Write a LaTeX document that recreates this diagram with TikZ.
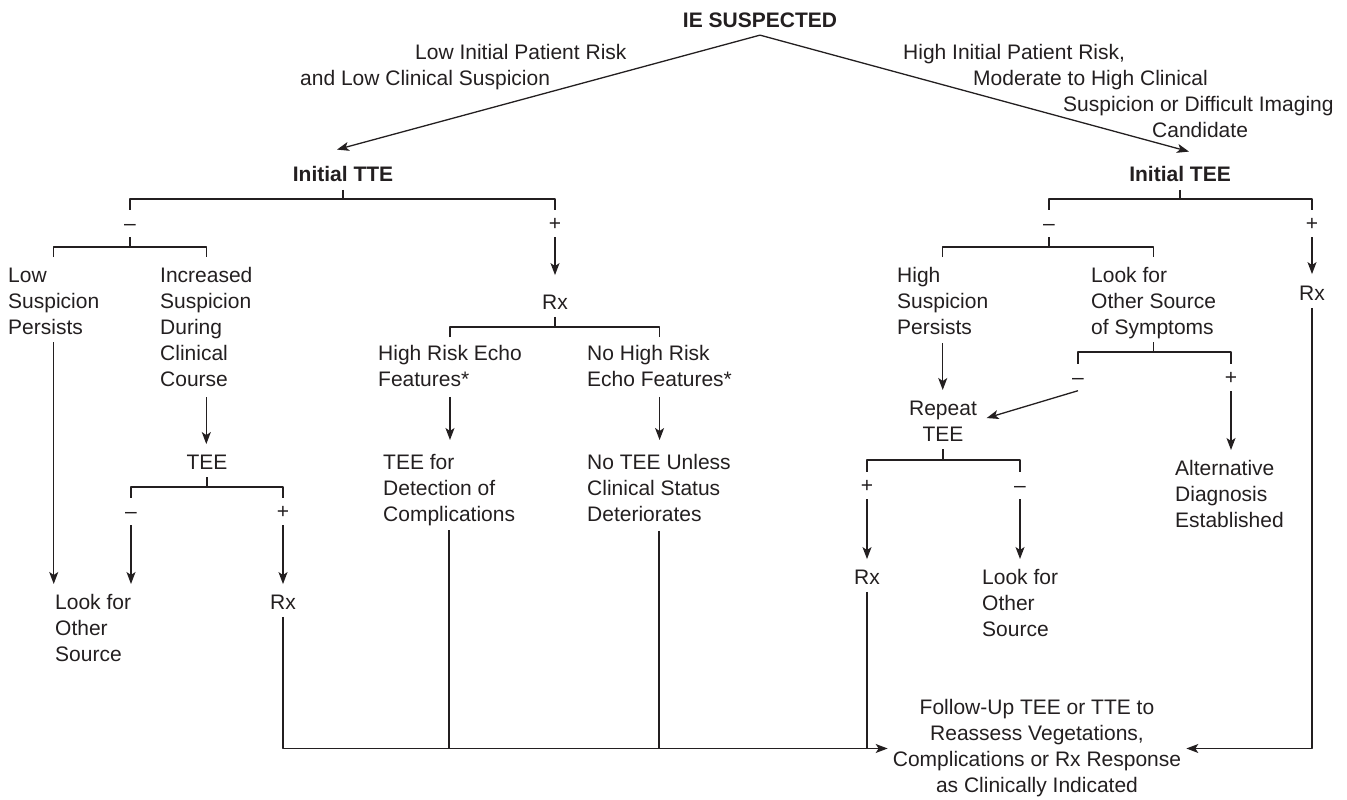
\documentclass[tikz,border=0pt]{standalone}
\usepackage{fontspec}
\setmainfont{Liberation Sans}
\usetikzlibrary{arrows.meta}
\definecolor{ink}{RGB}{35,31,32}
\tikzset{
  txt/.style={inner sep=0pt, align=left, font=\fontsize{21}{26}\selectfont},
  ctr/.style={txt, align=center},
  bld/.style={inner sep=0pt, font=\fontsize{21}{26}\selectfont\bfseries},
  sgn/.style={inner sep=0pt, font=\fontsize{21}{26}\selectfont, text height=15pt, text depth=0pt},
  ln/.style={line width=1.3pt},
  arr/.style={ln, ->},
}
\begin{document}
\begin{tikzpicture}[x=1pt, y=-1pt, color=ink, line join=round, >={Stealth[length=12pt,width=9pt,inset=3pt]}]
\useasboundingbox (0,0) rectangle (1347,800);

\node[bld] (ie) at (760,20) {IE SUSPECTED};
\node[bld] (tte) at (343,174) {Initial TTE};
\node[bld] (tee) at (1180,174) {Initial TEE};
\node[txt, anchor=north west] (lowlbl) at (300,44.5) {\hspace*{115pt}Low Initial Patient Risk\\and Low Clinical Suspicion};
\node[txt, anchor=north west] (highlbl) at (903,44.5) {High Initial Patient Risk,\\\hspace*{70pt}Moderate to High Clinical\\\hspace*{160pt}Suspicion or Difficult Imaging\\\hspace*{249pt}Candidate};
\draw[arr] ([yshift=-7.5pt]ie.south) -- ([xshift=-6pt,yshift=16.5pt]tte.north);
\draw[arr] ([yshift=-7.5pt]ie.south) -- ([xshift=9pt,yshift=14.5pt]tee.north);

% TTE branch
\coordinate (jtte) at (343,199);
\node[sgn] (tteneg) at (130,223) {–};
\node[sgn] (ttepos) at (555,223) {+};
\draw[ln, shorten <=8pt] (tte) -- (jtte);
\draw[ln, shorten <=5.5pt, shorten >=5.5pt] (tteneg) |- (jtte) -| (ttepos);

\coordinate (jneg) at (130,247);
\node[txt, anchor=north west] (lowsus) at (8,267.5) {Low\\Suspicion\\Persists};
\node[txt, anchor=north west] (incsus) at (160,267.5) {Increased\\Suspicion\\During\\Clinical\\Course};
\draw[ln, shorten <=6.5pt] (tteneg) -- (jneg);
\draw[ln, shorten <=10.5pt, shorten >=10.5pt] (lowsus) |- (jneg) -| (incsus);

\node[txt, anchor=north west] (look1) at (55,594.5) {Look for\\Other\\Source};
\node[txt] (teeL) at (207,462) {TEE};
\draw[arr, shorten <=7.5pt, shorten >=10.5pt] (lowsus.south) -- (lowsus.south |- look1.north);
\draw[arr, shorten <=10pt, shorten >=10.5pt] (incsus.south) -- (incsus.south |- teeL.north);

\coordinate (jteeL) at (207,487);
\node[sgn] (lneg) at (131,511) {–};
\node[sgn] (lpos) at (283,511) {+};
\node[txt] (rxL) at (283,602) {Rx};
\draw[ln, shorten <=8pt] (teeL) -- (jteeL);
\draw[ln, shorten <=5.5pt, shorten >=5.5pt] (lneg) |- (jteeL) -| (lpos);
\draw[arr, shorten <=6.5pt, shorten >=10.5pt] (lneg.south) -- (lneg.south |- look1.north);
\draw[arr, shorten <=6.5pt, shorten >=10.5pt] (lpos) -- (rxL);

\node[txt] (rxM) at (555,302) {Rx};
\draw[arr, shorten <=6.5pt, shorten >=19.5pt] (ttepos) -- (rxM);
\coordinate (jrx) at (555,327);
\node[txt, anchor=north west] (hre) at (378,345.5) {High Risk Echo\\Features*};
\node[txt, anchor=north west] (nhr) at (587,345.5) {No High Risk\\Echo Features*};
\draw[ln, shorten <=7.5pt] (rxM) -- (jrx);
\draw[ln, shorten <=8.5pt, shorten >=8.5pt] (hre) |- (jrx) -| (nhr);
\node[txt, anchor=north west] (tfd) at (383,454.5) {TEE for\\Detection of\\Complications};
\node[txt, anchor=north west] (ntu) at (587,454.5) {No TEE Unless\\Clinical Status\\Deteriorates};
\draw[arr, shorten <=9.5pt, shorten >=14.5pt] (hre.south) -- (hre.south |- tfd.north);
\draw[arr, shorten <=9.5pt, shorten >=14.5pt] (nhr.south) -- (nhr.south |- ntu.north);

% TEE branch
\coordinate (jtee) at (1180,199);
\node[sgn] (teeneg) at (1049,223) {–};
\node[sgn] (teepos) at (1312,223) {+};
\draw[ln, shorten <=8pt] (tee) -- (jtee);
\draw[ln, shorten <=5.5pt, shorten >=5.5pt] (teeneg) |- (jtee) -| (teepos);
\node[txt] (rxT) at (1312,293) {Rx};
\draw[arr, shorten <=6.5pt, shorten >=11.5pt] (teepos) -- (rxT);

\coordinate (jteeneg) at (1049,247);
\node[txt, anchor=north west] (hsp) at (897,267.5) {High\\Suspicion\\Persists};
\node[txt, anchor=north west] (lfo) at (1091,267.5) {Look for\\Other Source\\of Symptoms};
\draw[ln, shorten <=6.5pt] (teeneg) -- (jteeneg);
\draw[ln, shorten <=10.5pt, shorten >=10.5pt] (hsp) |- (jteeneg) -| (lfo);

\node[ctr, anchor=north] (rep) at (943,400.5) {Repeat\\TEE};
\draw[arr, shorten <=8pt, shorten >=10.5pt] (hsp.south) -- (hsp.south |- rep.north);
\coordinate (jsym) at (lfo.south |- 0,352);
\node[sgn] (sneg) at (1078,377) {–};
\node[sgn] (spos) at (1231,377) {+};
\draw[ln, shorten <=3pt] (lfo.south) -- (jsym);
\draw[ln, shorten <=5.5pt, shorten >=5.5pt] (sneg) |- (jsym) -| (spos);
\draw[arr, shorten >=10pt] ([yshift=-6pt]sneg.south) -- (rep.east);
\node[txt, anchor=north west] (alt) at (1175,460.5) {Alternative\\Diagnosis\\Established};
\draw[arr, shorten <=6.5pt, shorten >=10.5pt] (spos.south) -- (spos.south |- alt.north);

\coordinate (jrep) at (943,460);
\node[sgn] (rpos) at (867,485) {+};
\node[sgn] (rneg) at (1020,485) {–};
\draw[ln, shorten <=8pt] (rep) -- (jrep);
\draw[ln, shorten <=5.5pt, shorten >=5.5pt] (rpos) |- (jrep) -| (rneg);
\node[txt] (rxR) at (867,577) {Rx};
\node[txt, anchor=north west] (look2) at (982,569.5) {Look for\\Other\\Source};
\draw[arr, shorten <=6.5pt, shorten >=10.5pt] (rpos) -- (rxR);
\draw[arr, shorten <=6.5pt, shorten >=10.5pt] (rneg.south) -- (rneg.south |- look2.north);

% follow-up
\node[ctr, anchor=north] (fu) at (1037,699.5) {Follow-Up TEE or TTE to\\Reassess Vegetations,\\Complications or Rx Response\\as Clinically Indicated};
\draw[arr, shorten <=7.5pt, shorten >=5pt] (rxL) |- (fu);
\draw[ln, shorten <=4pt] (tfd.south) -- (tfd.south |- fu.west);
\draw[ln, shorten <=8.5pt] (ntu.south) -- (ntu.south |- fu.west);
\draw[ln, shorten <=7.5pt] (rxR.south) -- (rxR.south |- fu.west);
\draw[arr, shorten <=7.5pt, shorten >=5pt] (rxT) |- (fu);
\end{tikzpicture}
\end{document}
